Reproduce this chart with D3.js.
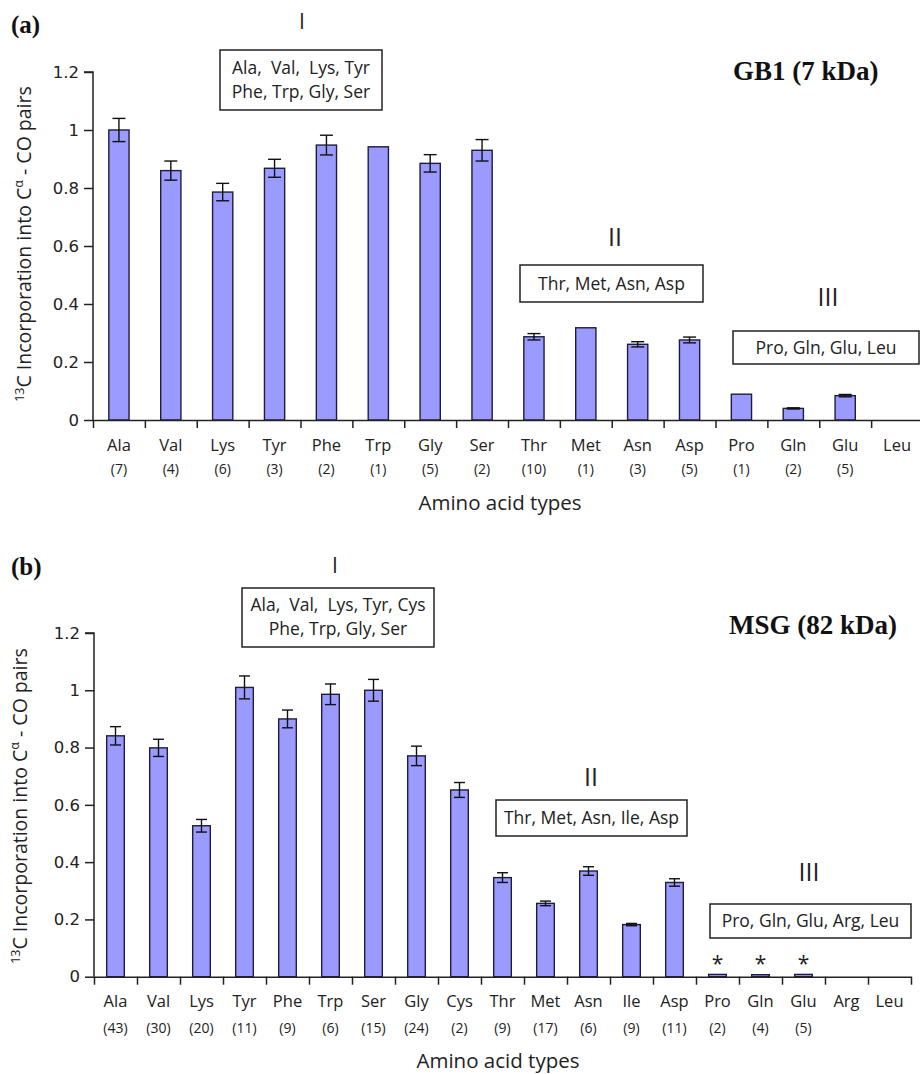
<!DOCTYPE html>
<html>
<head>
<meta charset="utf-8">
<script src="https://cdn.jsdelivr.net/npm/d3@7"></script>
<style>
  html, body { margin: 0; padding: 0; background: #fff; }
  svg { display: block; }
  text { white-space: pre; }
</style>
</head>
<body>
<svg id="chart" width="920" height="1074"></svg>
<script>
// ---------- DATA ----------
const catsA   = ["Ala","Val","Lys","Tyr","Phe","Trp","Gly","Ser","Thr","Met","Asn","Asp","Pro","Gln","Glu","Leu"];
const valsA   = [1.00, 0.86, 0.786, 0.868, 0.948, 0.942, 0.885, 0.93, 0.287, 0.318, 0.261, 0.276, 0.089, 0.040, 0.084, 0];
const errA    = [0.04, 0.033, 0.03, 0.031, 0.034, 0, 0.03, 0.037, 0.011, 0, 0.009, 0.01, 0, 0.002, 0.004, 0];
const countsA = ["(7)","(4)","(6)","(3)","(2)","(1)","(5)","(2)","(10)","(1)","(3)","(5)","(1)","(2)","(5)",""];

const catsB   = ["Ala","Val","Lys","Tyr","Phe","Trp","Ser","Gly","Cys","Thr","Met","Asn","Ile","Asp","Pro","Gln","Glu","Arg","Leu"];
const valsB   = [0.841, 0.799, 0.527, 1.01, 0.90, 0.986, 1.00, 0.771, 0.652, 0.346, 0.256, 0.369, 0.182, 0.329, 0.008, 0.007, 0.008, 0, 0];
const errB    = [0.032, 0.03, 0.022, 0.04, 0.031, 0.036, 0.038, 0.034, 0.026, 0.017, 0.008, 0.015, 0.004, 0.013, 0, 0, 0, 0, 0];
const countsB = ["(43)","(30)","(20)","(11)","(9)","(6)","(15)","(24)","(2)","(9)","(17)","(6)","(9)","(11)","(2)","(4)","(5)","",""];
const starsB  = ["Pro","Gln","Glu"];

const yTickValues = [0, 0.2, 0.4, 0.6, 0.8, 1, 1.2];
const yTickLabels = ["0", "0.2", "0.4", "0.6", "0.8", "1", "1.2"];

const groupTextA = { I: ["Ala,  Val,  Lys, Tyr", "Phe, Trp, Gly, Ser"], II: ["Thr, Met, Asn, Asp"], III: ["Pro, Gln, Glu, Leu"] };
const groupTextB = { I: ["Ala,  Val,  Lys, Tyr, Cys", "Phe, Trp, Gly, Ser"], II: ["Thr, Met, Asn, Ile, Asp"], III: ["Pro, Gln, Glu, Arg, Leu"] };

// ---------- STYLE ----------
const BAR_FILL = "#9a9aff";
const BAR_STROKE = "#1e1e3c";
const INK = "#222";
const SANS = "'Open Sans', 'Noto Sans', sans-serif";
const SERIF = "'Liberation Serif', 'DejaVu Serif', serif";

const svg = d3.select("#chart");

function drawPanel(cfg) {
  const g = svg.append("g");
  const n = cfg.cats.length;

  const x = d3.scaleBand().domain(cfg.cats).range(cfg.xRange)
    .paddingInner(cfg.pad).paddingOuter(cfg.pad / 2);
  const xEdge = d3.scaleLinear().domain([0, n]).range(cfg.xRange);
  const y = d3.scaleLinear().domain([0, 1.2]).range([cfg.y0, cfg.yTop]);

  const rows = cfg.cats.map((c, i) => ({ c, v: cfg.vals[i], e: cfg.errs[i] }));

  // bars
  g.selectAll("rect.bar").data(rows.filter(d => d.v > 0))
    .enter().append("rect")
    .attr("x", d => x(d.c))
    .attr("width", x.bandwidth())
    .attr("y", d => y(d.v))
    .attr("height", d => cfg.y0 - y(d.v))
    .attr("fill", BAR_FILL)
    .attr("stroke", BAR_STROKE)
    .attr("stroke-width", 1.4);

  // error bars
  const eb = g.selectAll("g.err").data(rows.filter(d => d.e > 0))
    .enter().append("g").attr("stroke", "#111").attr("stroke-width", 1.4);
  const cap = cfg.cap;
  const cx = d => x(d.c) + x.bandwidth() / 2;
  eb.append("line").attr("x1", cx).attr("x2", cx)
    .attr("y1", d => y(d.v + d.e)).attr("y2", d => y(d.v - d.e));
  eb.append("line").attr("x1", d => cx(d) - cap / 2).attr("x2", d => cx(d) + cap / 2)
    .attr("y1", d => y(d.v + d.e)).attr("y2", d => y(d.v + d.e));
  eb.append("line").attr("x1", d => cx(d) - cap / 2).attr("x2", d => cx(d) + cap / 2)
    .attr("y1", d => y(d.v - d.e)).attr("y2", d => y(d.v - d.e));

  // stars
  if (cfg.stars) {
    g.selectAll("text.star").data(cfg.stars).enter().append("text")
      .attr("x", d => x(d) + x.bandwidth() / 2)
      .attr("y", cfg.y0 - 6)
      .attr("text-anchor", "middle")
      .attr("font-family", SANS).attr("font-size", 21).attr("fill", INK)
      .text("*");
  }

  // y axis
  const yAxis = d3.axisLeft(y).tickValues(yTickValues)
    .tickFormat((d, i) => yTickLabels[i]).tickSize(9).tickPadding(5);
  const ya = g.append("g").attr("transform", `translate(${cfg.xRange[0]},0)`).call(yAxis);
  ya.select(".domain").attr("d", `M-9,${cfg.yTop}H0V${cfg.y0}`);
  ya.selectAll("path, line").attr("stroke", INK).attr("stroke-width", 1.5);
  ya.selectAll("text").attr("font-family", "'DejaVu Sans', sans-serif").attr("font-size", 16.5).attr("fill", INK);

  // x axis: edge ticks
  const xEdgeAxis = d3.axisBottom(xEdge).tickValues(d3.range(n + 1)).tickFormat("").tickSize(8).tickSizeOuter(0);
  const xa = g.append("g").attr("transform", `translate(0,${cfg.y0})`).call(xEdgeAxis);
  xa.selectAll("path, line").attr("stroke", INK).attr("stroke-width", 1.5);

  // x axis: category names
  const xNameAxis = d3.axisBottom(x).tickSize(0).tickPadding(0);
  const xn = g.append("g").attr("transform", `translate(0,${cfg.nameY})`).call(xNameAxis);
  xn.select(".domain").remove();
  xn.selectAll("text").attr("dy", 0).attr("font-family", SANS).attr("font-size", 16.5).attr("fill", INK);

  // counts
  g.selectAll("text.cnt").data(cfg.cats.map((c, i) => ({ c, t: cfg.counts[i] })))
    .enter().append("text")
    .attr("x", d => x(d.c) + x.bandwidth() / 2)
    .attr("y", cfg.countY)
    .attr("text-anchor", "middle")
    .attr("font-family", SANS).attr("font-size", 14).attr("fill", INK)
    .text(d => d.t);

  // axis titles
  g.append("text").attr("x", cfg.xTitle[0]).attr("y", cfg.xTitle[1])
    .attr("text-anchor", "middle").attr("font-family", SANS).attr("font-size", 20.5).attr("fill", INK)
    .text("Amino acid types");

  const yl = g.append("text")
    .attr("transform", `translate(${cfg.yTitle[0]},${cfg.yTitle[1]}) rotate(-90)`)
    .attr("text-anchor", "middle").attr("font-family", SANS).attr("font-size", 19.5).attr("fill", INK);
  yl.append("tspan").attr("font-size", 12.5).attr("dy", -7).text("13");
  yl.append("tspan").attr("dy", 7).text("C Incorporation into C");
  yl.append("tspan").attr("font-size", 12.5).attr("dy", -8).text("α");
  yl.append("tspan").attr("dy", 8).text(" - CO pairs");

  // panel label and title
  g.append("text").attr("x", cfg.panelLabel[0]).attr("y", cfg.panelLabel[1])
    .attr("font-family", SERIF).attr("font-weight", "bold").attr("font-size", 25).attr("fill", "#111")
    .text(cfg.label);
  g.append("text").attr("x", cfg.title[0]).attr("y", cfg.title[1])
    .attr("font-family", SERIF).attr("font-weight", "bold").attr("font-size", 27).attr("fill", "#111")
    .text(cfg.titleText);

  // group numerals + boxes
  cfg.groups.forEach(gr => {
    g.append("text").attr("x", gr.numX).attr("y", gr.numY).attr("text-anchor", "middle")
      .attr("font-family", SANS).attr("font-size", gr.numSize).attr("fill", INK).text(gr.num);
    g.append("rect").attr("x", gr.box[0]).attr("y", gr.box[1]).attr("width", gr.box[2]).attr("height", gr.box[3])
      .attr("fill", "#fff").attr("stroke", INK).attr("stroke-width", 1.5);
    gr.lines.forEach((t, i) => {
      g.append("text").attr("x", gr.box[0] + gr.box[2] / 2).attr("y", gr.textY[i])
        .attr("text-anchor", "middle").attr("font-family", SANS).attr("font-size", 17.5).attr("fill", INK)
        .text(t);
    });
  });
}

drawPanel({
  cats: catsA, vals: valsA, errs: errA, counts: countsA,
  xRange: [93, 923], pad: 0.61, y0: 420, yTop: 72, cap: 13,
  nameY: 451, countY: 474, xTitle: [500, 510], yTitle: [31, 244],
  label: "(a)", panelLabel: [11, 33], titleText: "GB1 (7 kDa)", title: [733, 80],
  groups: [
    { num: "I", numX: 302, numY: 29, numSize: 21, box: [220, 50, 162, 60], lines: groupTextA.I, textY: [74, 98] },
    { num: "II", numX: 615, numY: 246, numSize: 25, box: [520, 265, 183, 37], lines: groupTextA.II, textY: [290] },
    { num: "III", numX: 828, numY: 306, numSize: 25, box: [733, 331, 186, 33], lines: groupTextA.III, textY: [354] }
  ]
});

drawPanel({
  cats: catsB, vals: valsB, errs: errB, counts: countsB, stars: starsB,
  xRange: [94, 911], pad: 0.59, y0: 976.7, yTop: 633, cap: 11,
  nameY: 1007, countY: 1033, xTitle: [498, 1068], yTitle: [27, 806],
  label: "(b)", panelLabel: [11, 575], titleText: "MSG (82 kDa)", title: [729, 634],
  groups: [
    { num: "I", numX: 335, numY: 573, numSize: 21, box: [242, 588, 192, 59], lines: groupTextB.I, textY: [611, 635] },
    { num: "II", numX: 591, numY: 786, numSize: 25, box: [496, 800, 191, 36], lines: groupTextB.II, textY: [824] },
    { num: "III", numX: 809, numY: 881, numSize: 25, box: [710, 904, 201, 34], lines: groupTextB.III, textY: [927] }
  ]
});
</script>
</body>
</html>
